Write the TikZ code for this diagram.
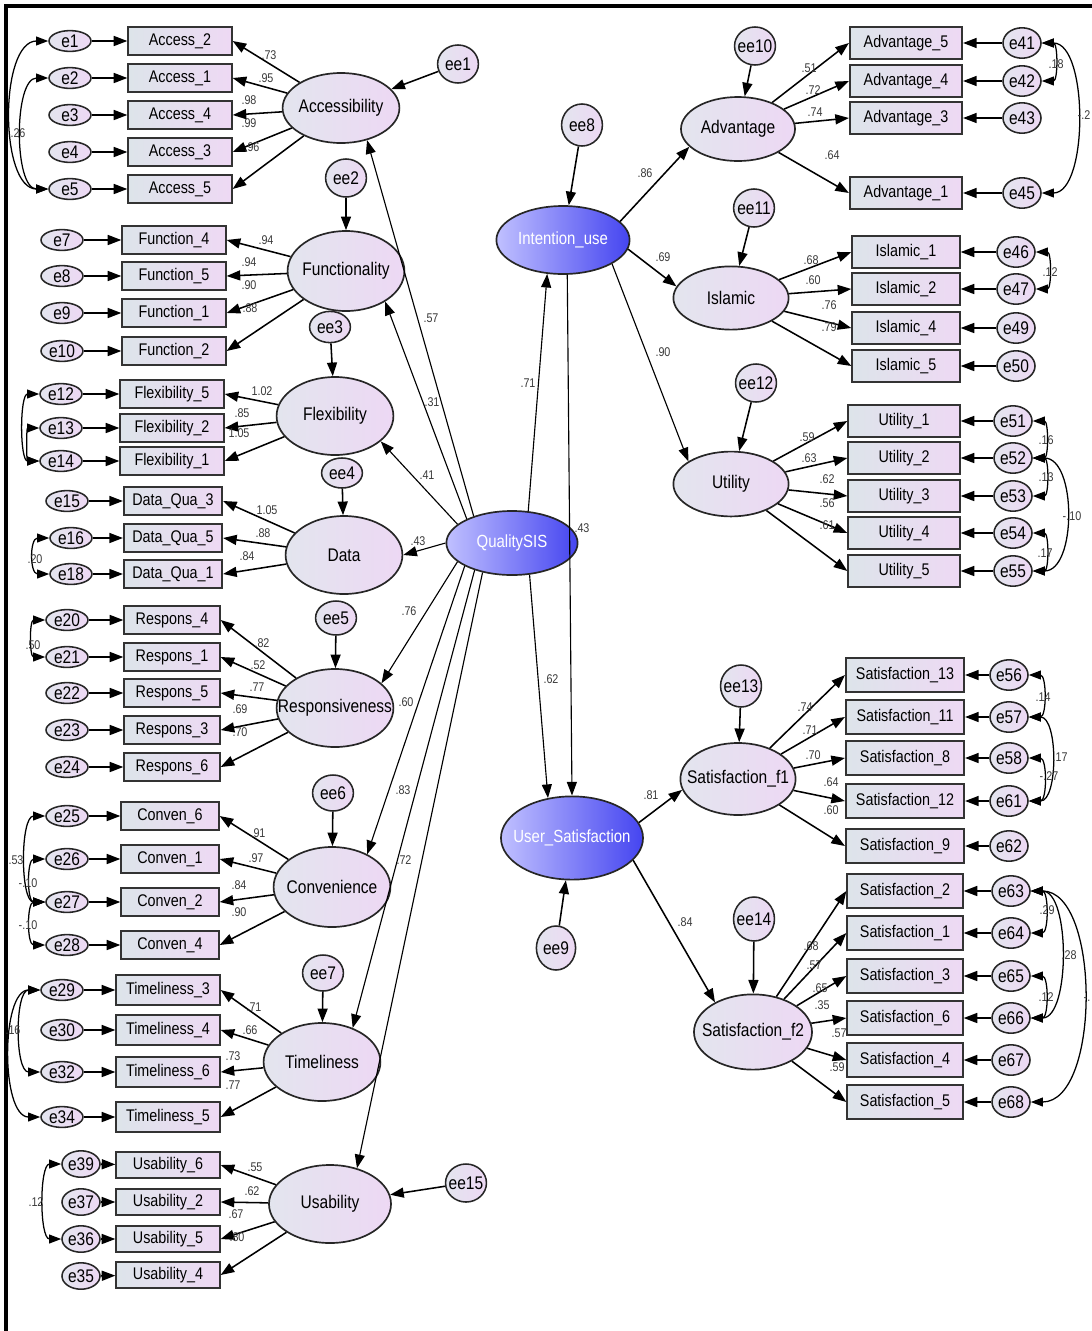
\documentclass[tikz,border=0pt]{standalone}
\usepackage{fontspec}
\setmainfont{Liberation Sans}[FakeStretch=0.85]
\usepackage{xcolor}
\usepackage{tikz}
\usetikzlibrary{shapes}
\usetikzlibrary{arrows.meta}

\definecolor{latl}{HTML}{E3E5EE}
\definecolor{latr}{HTML}{EDD8F4}
\definecolor{boxl}{HTML}{DDE4EA}
\definecolor{boxr}{HTML}{EED9F4}
\definecolor{hubl}{HTML}{C0C0FF}
\definecolor{hubr}{HTML}{4545F0}
\definecolor{lbl}{HTML}{3A3A3A}

\tikzset{
 lat/.style={ellipse, draw=black!85, line width=1.2pt, left color=latl, right color=latr, minimum width=2.92cm, minimum height=1.95cm, inner xsep=-0.4cm, inner ysep=0pt, font=\fontsize{13}{13}\selectfont},
 hub/.style={lat, left color=hubl, right color=hubr, text=white, font=\fontsize{12.5}{12.5}\selectfont},
 ind/.style={rectangle, draw=black!80, line width=1.5pt, left color=boxl, right color=boxr, minimum width=2.58cm, minimum height=0.72cm, inner sep=1pt, font=\fontsize{12}{12}\selectfont},
 indr/.style={ind, minimum width=2.8cm, minimum height=0.8cm},
 err/.style={ellipse, draw=black!85, line width=1.1pt, left color=latl, right color=latr, minimum width=1.05cm, minimum height=0.52cm, inner sep=-2pt, font=\fontsize{13}{13}\selectfont},
 errr/.style={err, minimum width=0.95cm, minimum height=0.76cm},
 res/.style={err, minimum width=1.02cm, minimum height=0.95cm},
 lab/.style={inner sep=0pt, text=lbl, font=\fontsize{9}{9}\selectfont},
 arr/.style={-{Triangle[length=3.4mm,width=2.5mm]}, line width=1.1pt},
 sarr/.style={-{Triangle[length=3.4mm,width=2.5mm]}, line width=0.8pt},
 cov/.style={{Triangle[length=3mm,width=2.2mm]}-{Triangle[length=3mm,width=2.2mm]}, line width=0.9pt},
}

\begin{document}
\begin{tikzpicture}[x=0.025cm, y=-0.025cm]
 \useasboundingbox (0,0) rectangle (1092,1331);
 %frame
 \draw[line width=2.4pt] (6,1331) -- (6,6) -- (1092,6);

 %second order
 \node[hub, minimum width=3.28cm, minimum height=1.6cm] (qsis) at (512,543) {QualitySIS};
 \node[hub, minimum width=3.33cm, minimum height=1.7cm] (iu) at (563,240) {Intention\_use};
 \node[hub, minimum width=3.55cm, minimum height=2.08cm] (us) at (572,838) {User\_Satisfaction};

 %first order
 \node[lat, minimum height=1.75cm] (acc) at (341,108) {Accessibility};
 \node[lat, minimum height=2cm] (fun) at (346,271) {Functionality};
 \node[lat] (flx) at (335,416) {Flexibility};
 \node[lat] (dat) at (344,555) {Data};
 \node[lat] (rsp) at (335,708) {Responsiveness};
 \node[lat, minimum height=2cm] (cnv) at (332,887) {Convenience};
 \node[lat] (tml) at (322,1062) {Timeliness};
 \node[lat, minimum width=3.05cm] (usb) at (330,1204) {Usability};
 \node[lat, minimum width=2.85cm, minimum height=1.6cm] (adv) at (738,129) {Advantage};
 \node[lat, minimum width=2.88cm, minimum height=1.58cm] (isl) at (731,298) {Islamic};
 \node[lat, minimum width=2.88cm, minimum height=1.62cm] (utl) at (731,484) {Utility};
 \node[lat, minimum width=2.88cm, minimum height=1.8cm] (sf1) at (738,779) {Satisfaction\_f1};
 \node[lat, minimum width=2.95cm, minimum height=1.88cm] (sf2) at (753,1032) {Satisfaction\_f2};

 %residuals
 \node[res] (ee1) at (458,64) {ee1};
 \node[res] (ee2) at (346,178) {ee2};
 \node[res, minimum height=0.78cm] (ee3) at (330,327) {ee3};
 \node[res, minimum height=0.75cm] (ee4) at (342,473) {ee4};
 \node[res, minimum height=0.85cm] (ee5) at (336,618) {ee5};
 \node[res, minimum height=0.9cm] (ee6) at (333,793) {ee6};
 \node[res, minimum height=0.9cm] (ee7) at (323,973) {ee7};
 \node[res, minimum height=1.05cm] (ee8) at (582,125) {ee8};
 \node[res, minimum width=0.98cm, minimum height=1.1cm] (ee9) at (556,948) {ee9};
 \node[res] (ee10) at (755,46) {ee10};
 \node[res] (ee11) at (754,208) {ee11};
 \node[res] (ee12) at (756,383) {ee12};
 \node[res, minimum height=1.05cm] (ee13) at (741,686) {ee13};
 \node[res, minimum height=1.1cm] (ee14) at (754,919) {ee14};
 \node[res] (ee15) at (466,1183) {ee15};

 %Accessibility
 \node[ind] (a2) at (180,41) {Access\_2};
 \node[ind] (a1) at (180,78) {Access\_1};
 \node[ind] (a4) at (180,115) {Access\_4};
 \node[ind] (a3) at (180,152) {Access\_3};
 \node[ind] (a5) at (180,189) {Access\_5};
 \node[err] (e1) at (70,41) {e1};
 \node[err] (e2) at (70,78) {e2};
 \node[err] (e3) at (70,115) {e3};
 \node[err] (e4) at (70,152) {e4};
 \node[err] (e5) at (70,189) {e5};

 %Functionality
 \node[ind] (f4) at (174,240) {Function\_4};
 \node[ind] (f5) at (174,276) {Function\_5};
 \node[ind] (f1) at (174,313) {Function\_1};
 \node[ind] (f2) at (174,351) {Function\_2};
 \node[err] (e7) at (62,240) {e7};
 \node[err] (e8) at (62,276) {e8};
 \node[err] (e9) at (62,313) {e9};
 \node[err] (e10) at (62,351) {e10};

 %Flexibility
 \node[ind] (x5) at (172,394) {Flexibility\_5};
 \node[ind] (x2) at (172,428) {Flexibility\_2};
 \node[ind] (x1) at (172,461) {Flexibility\_1};
 \node[err] (e12) at (61,394) {e12};
 \node[err] (e13) at (61,428) {e13};
 \node[err] (e14) at (61,461) {e14};

 %Data
 \node[ind, minimum width=2.45cm] (d3) at (173,501) {Data\_Qua\_3};
 \node[ind, minimum width=2.45cm] (d5) at (173,538) {Data\_Qua\_5};
 \node[ind, minimum width=2.45cm] (d1) at (173,574) {Data\_Qua\_1};
 \node[err] (e15) at (67,501) {e15};
 \node[err] (e16) at (71,538) {e16};
 \node[err] (e18) at (71,574) {e18};

 %Responsiveness
 \node[ind, minimum width=2.38cm] (r4) at (172,620) {Respons\_4};
 \node[ind, minimum width=2.38cm] (r1) at (172,657) {Respons\_1};
 \node[ind, minimum width=2.38cm] (r5) at (172,693) {Respons\_5};
 \node[ind, minimum width=2.38cm] (r3) at (172,730) {Respons\_3};
 \node[ind, minimum width=2.38cm] (r6) at (172,767) {Respons\_6};
 \node[err] (e20) at (67,620) {e20};
 \node[err] (e21) at (67,657) {e21};
 \node[err] (e22) at (67,693) {e22};
 \node[err] (e23) at (67,730) {e23};
 \node[err] (e24) at (67,767) {e24};

 %Convenience
 \node[ind, minimum width=2.43cm] (c6) at (170,816) {Conven\_6};
 \node[ind, minimum width=2.43cm] (c1) at (170,859) {Conven\_1};
 \node[ind, minimum width=2.43cm] (c2) at (170,902) {Conven\_2};
 \node[ind, minimum width=2.43cm] (c4) at (170,945) {Conven\_4};
 \node[err] (e25) at (67,816) {e25};
 \node[err] (e26) at (67,859) {e26};
 \node[err] (e27) at (67,902) {e27};
 \node[err] (e28) at (67,945) {e28};

 %Timeliness
 \node[ind, minimum height=0.76cm] (t3) at (168,990) {Timeliness\_3};
 \node[ind, minimum height=0.76cm] (t4) at (168,1030) {Timeliness\_4};
 \node[ind, minimum height=0.76cm] (t6) at (168,1072) {Timeliness\_6};
 \node[ind, minimum height=0.76cm] (t5) at (168,1117) {Timeliness\_5};
 \node[err] (e29) at (62,990) {e29};
 \node[err] (e30) at (62,1030) {e30};
 \node[err] (e32) at (62,1072) {e32};
 \node[err] (e34) at (62,1117) {e34};

 %Usability
 \node[ind, minimum height=0.64cm] (u6) at (168,1165) {Usability\_6};
 \node[ind, minimum height=0.64cm] (u2) at (168,1202) {Usability\_2};
 \node[ind, minimum height=0.64cm] (u5) at (168,1239) {Usability\_5};
 \node[ind, minimum height=0.64cm] (u4) at (168,1275) {Usability\_4};
 \node[err, minimum width=0.95cm, minimum height=0.66cm] (e39) at (81,1164) {e39};
 \node[err, minimum width=0.95cm, minimum height=0.66cm] (e37) at (81,1202) {e37};
 \node[err, minimum width=0.95cm, minimum height=0.66cm] (e36) at (81,1239) {e36};
 \node[err, minimum width=0.95cm, minimum height=0.66cm] (e35) at (81,1276) {e35};

 %Advantage
 \node[indr] (av5) at (906,43) {Advantage\_5};
 \node[indr] (av4) at (906,81) {Advantage\_4};
 \node[indr] (av3) at (906,118) {Advantage\_3};
 \node[indr] (av1) at (906,193) {Advantage\_1};
 \node[errr] (e41) at (1022,43) {e41};
 \node[errr] (e42) at (1022,81) {e42};
 \node[errr] (e43) at (1022,118) {e43};
 \node[errr] (e45) at (1022,193) {e45};

 %Islamic
 \node[indr, minimum width=2.68cm] (is1) at (906,252) {Islamic\_1};
 \node[indr, minimum width=2.68cm] (is2) at (906,289) {Islamic\_2};
 \node[indr, minimum width=2.68cm] (is4) at (906,328) {Islamic\_4};
 \node[indr, minimum width=2.68cm] (is5) at (906,366) {Islamic\_5};
 \node[errr] (e46) at (1016,252) {e46};
 \node[errr] (e47) at (1016,289) {e47};
 \node[errr] (e49) at (1016,328) {e49};
 \node[errr] (e50) at (1016,366) {e50};

 %Utility
 \node[indr, minimum width=2.78cm] (ut1) at (904,421) {Utility\_1};
 \node[indr, minimum width=2.78cm] (ut2) at (904,458) {Utility\_2};
 \node[indr, minimum width=2.78cm] (ut3) at (904,496) {Utility\_3};
 \node[indr, minimum width=2.78cm] (ut4) at (904,533) {Utility\_4};
 \node[indr, minimum width=2.78cm] (ut5) at (904,571) {Utility\_5};
 \node[errr] (e51) at (1013,421) {e51};
 \node[errr] (e52) at (1013,458) {e52};
 \node[errr] (e53) at (1013,496) {e53};
 \node[errr] (e54) at (1013,533) {e54};
 \node[errr] (e55) at (1013,571) {e55};

 %Satisfaction f1
 \node[indr, minimum width=2.95cm, minimum height=0.83cm] (s13) at (905,675) {Satisfaction\_13};
 \node[indr, minimum width=2.95cm, minimum height=0.83cm] (s11) at (905,717) {Satisfaction\_11};
 \node[indr, minimum width=2.95cm, minimum height=0.83cm] (s8) at (905,758) {Satisfaction\_8};
 \node[indr, minimum width=2.95cm, minimum height=0.83cm] (s12) at (905,801) {Satisfaction\_12};
 \node[indr, minimum width=2.95cm, minimum height=0.83cm] (s9) at (905,846) {Satisfaction\_9};
 \node[errr] (e56) at (1009,675) {e56};
 \node[errr] (e57) at (1009,717) {e57};
 \node[errr] (e58) at (1009,758) {e58};
 \node[errr] (e61) at (1009,801) {e61};
 \node[errr] (e62) at (1009,846) {e62};

 %Satisfaction f2
 \node[indr, minimum width=2.88cm, minimum height=0.83cm] (s2) at (905,891) {Satisfaction\_2};
 \node[indr, minimum width=2.88cm, minimum height=0.83cm] (s1) at (905,933) {Satisfaction\_1};
 \node[indr, minimum width=2.88cm, minimum height=0.83cm] (s3) at (905,976) {Satisfaction\_3};
 \node[indr, minimum width=2.88cm, minimum height=0.83cm] (s6) at (905,1018) {Satisfaction\_6};
 \node[indr, minimum width=2.88cm, minimum height=0.83cm] (s4) at (905,1060) {Satisfaction\_4};
 \node[indr, minimum width=2.88cm, minimum height=0.83cm] (s5) at (905,1102) {Satisfaction\_5};
 \node[errr] (e63) at (1011,891) {e63};
 \node[errr] (e64) at (1011,933) {e64};
 \node[errr] (e65) at (1011,976) {e65};
 \node[errr] (e66) at (1011,1018) {e66};
 \node[errr] (e67) at (1011,1060) {e67};
 \node[errr] (e68) at (1011,1102) {e68};

 %structural paths
 \draw[sarr] (qsis.145) -- (acc.-51);
 \draw[sarr] (qsis.152) -- (fun.-38);
 \draw[sarr] (qsis.161) -- (flx.-29);
 \draw[sarr] (qsis.180) -- (dat.0);
 \draw[sarr] (qsis.199) -- (rsp.28);
 \draw[sarr] (qsis.206) -- (cnv.43);
 \draw[sarr] (qsis.216) -- (tml.48);
 \draw[sarr] (qsis.225) -- (usb.53);
 \draw[sarr] (qsis.63) -- (iu.245);
 \draw[sarr] (qsis.299) -- (us.121);
 \draw[sarr] (iu.-83) -- (us.north);
 \draw[arr] (iu.18) -- (adv.200);
 \draw[arr] (iu.-8) -- (isl.168);
 \draw[sarr] (iu.-26) -- (utl.152);
 \draw[arr] (us.13) -- (sf1.191);
 \draw[arr] (us.-20) -- (sf2.142);
 \draw[arr] (ee8) -- (iu);
 \draw[arr] (ee9) -- (us);

 %residual paths
 \draw[arr] (ee1) -- (acc);
 \draw[arr] (ee2) -- (fun);
 \draw[arr] (ee3) -- (flx);
 \draw[arr] (ee4) -- (dat);
 \draw[arr] (ee5) -- (rsp);
 \draw[arr] (ee6) -- (cnv);
 \draw[arr] (ee7) -- (tml);
 \draw[arr] (ee15) -- (usb);
 \draw[arr] (ee10) -- (adv);
 \draw[arr] (ee11) -- (isl);
 \draw[arr] (ee12) -- (utl);
 \draw[arr] (ee13) -- (sf1);
 \draw[arr] (ee14) -- (sf2);

 %loadings left
 \draw[arr] (acc) -- (a2.east);
 \draw[arr] (acc) -- (a1.east);
 \draw[arr] (acc) -- (a4.east);
 \draw[arr] (acc) -- (a3.east);
 \draw[arr] (acc) -- (a5.east);
 \draw[arr] (fun) -- (f4.east);
 \draw[arr] (fun) -- (f5.east);
 \draw[arr] (fun) -- (f1.east);
 \draw[arr] (fun) -- (f2.east);
 \draw[arr] (flx) -- (x5.east);
 \draw[arr] (flx) -- (x2.east);
 \draw[arr] (flx) -- (x1.east);
 \draw[arr] (dat) -- (d3.east);
 \draw[arr] (dat) -- (d5.east);
 \draw[arr] (dat) -- (d1.east);
 \draw[arr] (rsp) -- (r4.east);
 \draw[arr] (rsp) -- (r1.east);
 \draw[arr] (rsp) -- (r5.east);
 \draw[arr] (rsp) -- (r3.east);
 \draw[arr] (rsp) -- (r6.east);
 \draw[arr] (cnv) -- (c6.east);
 \draw[arr] (cnv) -- (c1.east);
 \draw[arr] (cnv) -- (c2.east);
 \draw[arr] (cnv) -- (c4.east);
 \draw[arr] (tml) -- (t3.east);
 \draw[arr] (tml) -- (t4.east);
 \draw[arr] (tml) -- (t6.east);
 \draw[arr] (tml) -- (t5.east);
 \draw[arr] (usb) -- (u6.east);
 \draw[arr] (usb) -- (u2.east);
 \draw[arr] (usb) -- (u5.east);
 \draw[arr] (usb) -- (u4.east);

 %loadings right
 \draw[arr] (adv) -- (av5.west);
 \draw[arr] (adv) -- (av4.west);
 \draw[arr] (adv) -- (av3.west);
 \draw[arr] (adv) -- (av1.west);
 \draw[arr] (isl) -- (is1.west);
 \draw[arr] (isl) -- (is2.west);
 \draw[arr] (isl) -- (is4.west);
 \draw[arr] (isl) -- (is5.west);
 \draw[arr] (utl) -- (ut1.west);
 \draw[arr] (utl) -- (ut2.west);
 \draw[arr] (utl) -- (ut3.west);
 \draw[arr] (utl) -- (ut4.west);
 \draw[arr] (utl) -- (ut5.west);
 \draw[arr] (sf1) -- (s13.west);
 \draw[arr] (sf1) -- (s11.west);
 \draw[arr] (sf1) -- (s8.west);
 \draw[arr] (sf1) -- (s12.west);
 \draw[arr] (sf1) -- (s9.west);
 \draw[arr] (sf2) -- (s2.west);
 \draw[arr] (sf2) -- (s1.west);
 \draw[arr] (sf2) -- (s3.west);
 \draw[arr] (sf2) -- (s6.west);
 \draw[arr] (sf2) -- (s4.west);
 \draw[arr] (sf2) -- (s5.west);

 %errors left
 \draw[arr] (e1) -- (a2); \draw[arr] (e2) -- (a1); \draw[arr] (e3) -- (a4);
 \draw[arr] (e4) -- (a3); \draw[arr] (e5) -- (a5);
 \draw[arr] (e7) -- (f4); \draw[arr] (e8) -- (f5); \draw[arr] (e9) -- (f1);
 \draw[arr] (e10) -- (f2);
 \draw[arr] (e12) -- (x5); \draw[arr] (e13) -- (x2); \draw[arr] (e14) -- (x1);
 \draw[arr] (e15) -- (d3); \draw[arr] (e16) -- (d5); \draw[arr] (e18) -- (d1);
 \draw[arr] (e20) -- (r4); \draw[arr] (e21) -- (r1); \draw[arr] (e22) -- (r5);
 \draw[arr] (e23) -- (r3); \draw[arr] (e24) -- (r6);
 \draw[arr] (e25) -- (c6); \draw[arr] (e26) -- (c1); \draw[arr] (e27) -- (c2);
 \draw[arr] (e28) -- (c4);
 \draw[arr] (e29) -- (t3); \draw[arr] (e30) -- (t4); \draw[arr] (e32) -- (t6);
 \draw[arr] (e34) -- (t5);
 \draw[arr] (e39) -- (u6); \draw[arr] (e37) -- (u2); \draw[arr] (e36) -- (u5);
 \draw[arr] (e35) -- (u4);

 %errors right
 \draw[arr] (e41) -- (av5); \draw[arr] (e42) -- (av4); \draw[arr] (e43) -- (av3);
 \draw[arr] (e45) -- (av1);
 \draw[arr] (e46) -- (is1); \draw[arr] (e47) -- (is2); \draw[arr] (e49) -- (is4);
 \draw[arr] (e50) -- (is5);
 \draw[arr] (e51) -- (ut1); \draw[arr] (e52) -- (ut2); \draw[arr] (e53) -- (ut3);
 \draw[arr] (e54) -- (ut4); \draw[arr] (e55) -- (ut5);
 \draw[arr] (e56) -- (s13); \draw[arr] (e57) -- (s11); \draw[arr] (e58) -- (s8);
 \draw[arr] (e61) -- (s12); \draw[arr] (e62) -- (s9);
 \draw[arr] (e63) -- (s2); \draw[arr] (e64) -- (s1); \draw[arr] (e65) -- (s3);
 \draw[arr] (e66) -- (s6); \draw[arr] (e67) -- (s4); \draw[arr] (e68) -- (s5);

 %covariances left
 \draw[cov] (e1.west) to[out=180,in=180,looseness=0.85] (e5.west);
 \draw[cov] (e2.west) to[out=180,in=180,looseness=0.8] (e5.west);
 \draw[cov] (e12.west) to[out=180,in=180,looseness=0.75] (e14.west);
 \draw[cov] (e13.west) to[out=180,in=180,looseness=1] (e14.west);
 \draw[cov] (e16.west) to[out=180,in=180,looseness=1.4] (e18.west);
 \draw[cov] (e20.west) to[out=180,in=180,looseness=1.1] (e21.west);
 \draw[cov] (e25.west) to[out=180,in=180,looseness=0.75] (e27.west);
 \draw[cov] (e26.west) to[out=180,in=180,looseness=1.1] (e27.west);
 \draw[cov] (e27.west) to[out=180,in=180,looseness=1.1] (e28.west);
 \draw[cov] (e29.west) to[out=180,in=180,looseness=0.8] (e32.west);
 \draw[cov] (e29.west) to[out=180,in=180,looseness=0.8] (e34.west);
 \draw[cov] (e39.west) to[out=180,in=180,looseness=0.75] (e36.west);

 %covariances right
 \draw[cov] (e41.east) to[out=0,in=0,looseness=1.1] (e42.east);
 \draw[cov] (e41.east) to[out=0,in=0,looseness=0.8] (e45.east);
 \draw[cov] (e46.east) to[out=0,in=0,looseness=1.1] (e47.east);
 \draw[cov] (e51.east) to[out=0,in=0,looseness=1.1] (e52.east);
 \draw[cov] (e52.east) to[out=0,in=0,looseness=1.1] (e53.east);
 \draw[cov] (e52.east) to[out=0,in=0,looseness=1] (e55.east);
 \draw[cov] (e54.east) to[out=0,in=0,looseness=1.1] (e55.east);
 \draw[cov] (e56.east) to[out=0,in=0,looseness=1.1] (e57.east);
 \draw[cov] (e57.east) to[out=0,in=0,looseness=0.9] (e61.east);
 \draw[cov] (e58.east) to[out=0,in=0,looseness=1.1] (e61.east);
 \draw[cov] (e63.east) to[out=0,in=0,looseness=1.1] (e64.east);
 \draw[cov] (e63.east) to[out=0,in=0,looseness=0.8] (e66.east);
 \draw[cov] (e65.east) to[out=0,in=0,looseness=1.1] (e66.east);
 \draw[cov] (e63.east) to[out=0,in=0,looseness=0.85] (e68.east);

 %labels structural
 \node[lab] (l1) at (431,318) {.57};
 \node[lab] (l2) at (432,402) {.31};
 \node[lab] (l3) at (427,475) {.41};
 \node[lab] (l4) at (418,541) {.43};
 \node[lab] (l5) at (409,611) {.76};
 \node[lab] (l6) at (406,702) {.60};
 \node[lab] (l7) at (403,790) {.83};
 \node[lab] (l8) at (404,860) {.72};
 \node[lab] (l9) at (528,383) {.71};
 \node[lab] (l10) at (582,528) {.43};
 \node[lab] (l11) at (551,679) {.62};
 \node[lab] (l12) at (645,173) {.86};
 \node[lab] (l13) at (663,257) {.69};
 \node[lab] (l14) at (663,352) {.90};
 \node[lab] (l15) at (651,795) {.81};
 \node[lab] (l16) at (685,922) {.84};

 %labels left
 \node[lab] (l17) at (269,55) {.73};
 \node[lab] (l18) at (266,78) {.95};
 \node[lab] (l19) at (249,100) {.98};
 \node[lab] (l20) at (249,123) {.99};
 \node[lab] (l21) at (252,147) {.96};
 \node[lab] (l22) at (266,240) {.94};
 \node[lab] (l23) at (249,262) {.94};
 \node[lab] (l24) at (249,285) {.90};
 \node[lab] (l25) at (250,308) {.88};
 \node[lab] (l26) at (262,391) {1.02};
 \node[lab] (l27) at (242,413) {.85};
 \node[lab] (l28) at (239,433) {1.05};
 \node[lab] (l29) at (267,510) {1.05};
 \node[lab] (l30) at (263,533) {.88};
 \node[lab] (l31) at (247,556) {.84};
 \node[lab] (l32) at (262,643) {.82};
 \node[lab] (l33) at (258,665) {.52};
 \node[lab] (l34) at (257,687) {.77};
 \node[lab] (l35) at (240,709) {.69};
 \node[lab] (l36) at (240,732) {.70};
 \node[lab] (l37) at (258,833) {.91};
 \node[lab] (l38) at (256,858) {.97};
 \node[lab] (l39) at (239,885) {.84};
 \node[lab] (l40) at (239,912) {.90};
 \node[lab] (l41) at (254,1007) {.71};
 \node[lab] (l42) at (250,1030) {.66};
 \node[lab] (l43) at (233,1056) {.73};
 \node[lab] (l44) at (233,1085) {.77};
 \node[lab] (l45) at (255,1167) {.55};
 \node[lab] (l46) at (252,1191) {.62};
 \node[lab] (l47) at (236,1214) {.67};
 \node[lab] (l48) at (237,1237) {.80};

 %labels right
 \node[lab] (l49) at (809,68) {.51};
 \node[lab] (l50) at (813,90) {.72};
 \node[lab] (l51) at (815,112) {.74};
 \node[lab] (l52) at (832,155) {.64};
 \node[lab] (l53) at (811,260) {.68};
 \node[lab] (l54) at (813,280) {.60};
 \node[lab] (l55) at (829,305) {.76};
 \node[lab] (l56) at (829,327) {.79};
 \node[lab] (l57) at (807,437) {.59};
 \node[lab] (l58) at (809,458) {.63};
 \node[lab] (l59) at (827,479) {.62};
 \node[lab] (l60) at (827,503) {.56};
 \node[lab] (l61) at (827,525) {.61};
 \node[lab] (l62) at (805,707) {.74};
 \node[lab] (l63) at (810,730) {.71};
 \node[lab] (l64) at (813,755) {.70};
 \node[lab] (l65) at (831,782) {.64};
 \node[lab] (l66) at (831,810) {.60};
 \node[lab] (l67) at (811,946) {.68};
 \node[lab] (l68) at (814,965) {.57};
 \node[lab] (l69) at (820,988) {.65};
 \node[lab] (l70) at (822,1005) {.35};
 \node[lab] (l71) at (839,1033) {.57};
 \node[lab] (l72) at (837,1067) {.59};

 %labels covariances
 \node[lab] (c1l) at (18,133) {.26};
 \node[lab] (c2l) at (35,559) {.20};
 \node[lab] (c3l) at (33,645) {.50};
 \node[lab] (c4l) at (16,860) {.53};
 \node[lab] (c5l) at (28,883) {-.10};
 \node[lab] (c6l) at (28,925) {-.10};
 \node[lab] (c7l) at (13,1030) {.16};
 \node[lab] (c8l) at (36,1202) {.12};
 \node[lab] (c9l) at (1056,64) {.18};
 \node[lab] (c10l) at (1084,115) {-.2};
 \node[lab] (c11l) at (1050,272) {.12};
 \node[lab] (c12l) at (1046,440) {.16};
 \node[lab] (c13l) at (1046,477) {.13};
 \node[lab] (c14l) at (1072,516) {-.10};
 \node[lab] (c15l) at (1045,553) {.17};
 \node[lab] (c16l) at (1043,697) {.14};
 \node[lab] (c17l) at (1060,757) {.17};
 \node[lab] (c18l) at (1049,776) {-.27};
 \node[lab] (c19l) at (1047,910) {.29};
 \node[lab] (c20l) at (1069,955) {.28};
 \node[lab] (c21l) at (1046,997) {.12};
 \node[lab] (c22l) at (1087,1000) {-.};
\end{tikzpicture}
\end{document}
